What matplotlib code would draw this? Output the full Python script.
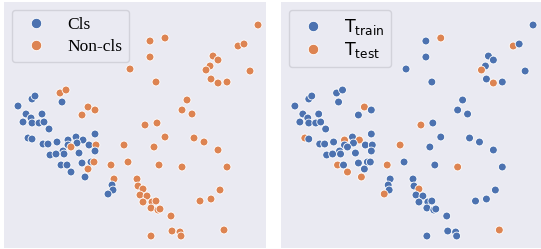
import numpy as np
import matplotlib
matplotlib.use("Agg")
import matplotlib.pyplot as plt
from matplotlib.lines import Line2D

# embedding coordinates (same points in both panels), y grows downward
x = [258, 150, 165, 150, 238, 244, 213, 218, 210, 206, 250, 130, 156, 211, 218,
     227, 187, 182, 192, 60, 66, 62, 32, 35, 18, 88, 95, 82, 26, 42,
     31, 23, 32, 39, 44, 145, 157, 49, 95, 28, 32, 165, 194, 204, 218,
     43, 48, 57, 68, 76, 83, 77, 68, 71, 89, 96, 95, 124, 154, 63,
     64, 50, 56, 79, 128, 111, 159, 182, 227, 61, 67, 82, 91, 94, 88,
     71, 85, 114, 137, 112, 138, 143, 113, 108, 220, 140, 147, 200, 211, 143,
     152, 156, 151, 158, 160, 171, 172, 180, 181, 224, 151]
y = [25, 41, 38, 57, 46, 44, 56, 60, 66, 70, 71, 69, 82, 79, 83,
     82, 100, 110, 114, 93, 90, 102, 99, 96, 106, 107, 110, 115, 114, 114,
     118, 122, 123, 123, 122, 125, 123, 129, 134, 138, 139, 137, 138, 142, 150,
     144, 144, 142, 140, 137, 140, 143, 145, 147, 145, 145, 151, 145, 147, 151,
     154, 155, 154, 153, 162, 165, 165, 167, 167, 165, 165, 163, 162, 162, 169,
     172, 177, 179, 179, 185, 186, 189, 190, 194, 190, 195, 196, 201, 199, 202,
     202, 201, 208, 210, 209, 216, 231, 232, 236, 230, 236]

# 0 = Cls, 1 = Non-cls
cls_label = [1, 1, 1, 1, 1, 1, 1, 1, 1, 1, 1, 1, 1, 1, 1,
             1, 1, 1, 1, 1, 1, 0, 0, 0, 0, 1, 1, 1, 0, 0,
             0, 0, 0, 0, 0, 1, 1, 0, 0, 0, 0, 1, 1, 1, 1,
             0, 0, 0, 0, 0, 0, 0, 0, 1, 0, 1, 0, 1, 1, 0,
             0, 0, 0, 0, 1, 1, 1, 1, 1, 0, 0, 0, 0, 1, 1,
             0, 0, 1, 1, 0, 1, 1, 0, 0, 1, 1, 1, 1, 1, 1,
             1, 1, 1, 1, 1, 1, 1, 1, 1, 1, 1]
# 0 = T_train, 1 = T_test
split_label = [0, 0, 1, 0, 1, 0, 0, 0, 0, 1, 0, 0, 0, 0, 1,
               0, 0, 0, 0, 0, 0, 0, 0, 0, 0, 1, 0, 0, 0, 0,
               0, 0, 0, 0, 0, 1, 0, 0, 0, 1, 0, 0, 0, 0, 0,
               0, 0, 0, 1, 0, 1, 0, 0, 0, 0, 0, 0, 1, 0, 0,
               0, 0, 0, 0, 0, 1, 0, 1, 0, 1, 0, 0, 0, 0, 0,
               1, 1, 0, 0, 0, 0, 1, 0, 1, 0, 0, 0, 0, 0, 0,
               0, 0, 0, 0, 0, 0, 0, 0, 0, 1, 0]

x = np.array(x)
y = np.array(y)
colors = np.array(['#4C72B0', '#DD8452'])

plt.rcParams['mathtext.fontset'] = 'dejavusans'

fig = plt.figure(figsize=(5.41, 2.49), dpi=100)
ax1 = fig.add_axes([4 / 541, 1 / 249, 262 / 541, 246 / 249])
ax2 = fig.add_axes([281 / 541, 1 / 249, 260 / 541, 246 / 249])


def panel(ax, lab, names, font, fsize, lspace):
    lab = np.array(lab)
    ax.set_facecolor('#EAEAF2')
    ax.scatter(x, y, s=32, c=colors[lab], edgecolors='white', linewidths=0.6, zorder=3)
    ax.set_xlim(4, 266)
    ax.set_ylim(248, 2)
    ax.set_xticks([])
    ax.set_yticks([])
    for s in ax.spines.values():
        s.set_visible(False)
    handles = [Line2D([], [], ls='none', marker='o', ms=7.5, mfc=c, mec='white', mew=0.6)
               for c in colors]
    leg = ax.legend(handles, names, loc='upper left', prop={'family': font, 'size': fsize},
                    frameon=True, handlelength=2.0, handletextpad=0.8, borderaxespad=0.45,
                    labelspacing=lspace, borderpad=0.4, fancybox=True)
    leg.get_frame().set_facecolor('#EAEAF2')
    leg.get_frame().set_edgecolor('#CCCCD4')
    leg.get_frame().set_alpha(0.8)


panel(ax1, cls_label, ['Cls', 'Non-cls'], 'Liberation Serif', 12.5, 0.35)
panel(ax2, split_label, [r'$\mathrm{T_{train}}$', r'$\mathrm{T_{test}}$'], 'DejaVu Sans', 12.5, 0.2)

plt.savefig('out.png', dpi=100)
plt.close()
